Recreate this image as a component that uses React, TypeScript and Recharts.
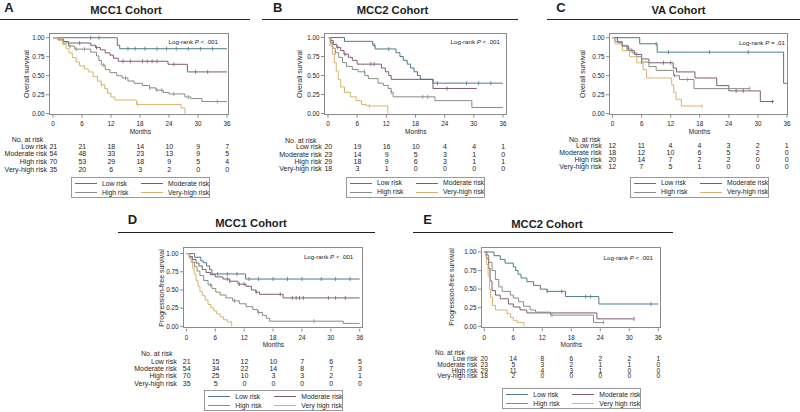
import { ComposedChart, Line, Scatter, XAxis, YAxis } from 'recharts';

type Pt = [number, number];

const FONT = '"Liberation Sans", Arial, Helvetica, sans-serif';
const COLORS = ['#4b7a8a', '#7d5c74', '#858f82', '#d9b36b'];
const ROW_LABELS = ['Low risk', 'Moderate risk', 'High risk', 'Very-high risk'];
const LEGEND_ABC = ['Low risk', 'Moderate risk', 'High risk', 'Very-high risk'];
const LEGEND_DE = ['Low risk', 'Moderate risk', 'High risk', 'Very high risk'];
const MONTHS = [0, 6, 12, 18, 24, 30, 36];
const SURV_TICKS = [0, 0.25, 0.5, 0.75, 1];

// A - MCC1 overall survival
const aLow: Pt[] = [[0, 1], [13.3, 0.9], [13.8, 0.855], [36, 0.855]];
const aMod: Pt[] = [[0, 1], [1.2, 0.98], [2.2, 0.95], [3.2, 0.93], [7.8, 0.9], [8.8, 0.87], [9.8, 0.84], [10.8, 0.8], [11.8, 0.77], [12.5, 0.73], [13.5, 0.69], [23.8, 0.65], [27.8, 0.55], [36, 0.55]];
const aHigh: Pt[] = [[0, 1], [1, 0.97], [2, 0.93], [3.2, 0.89], [4.5, 0.85], [7.8, 0.81], [9, 0.76], [9.5, 0.7], [10, 0.64], [10.8, 0.58], [11.8, 0.54], [13.2, 0.5], [14.3, 0.47], [15.5, 0.43], [16.8, 0.4], [18.5, 0.37], [20, 0.34], [21.3, 0.31], [22.8, 0.28], [24, 0.26], [27.3, 0.22], [28.5, 0.2], [30.8, 0.16], [36, 0.16]];
const aVery: Pt[] = [[0, 1], [1.2, 0.97], [2, 0.91], [2.7, 0.86], [3.3, 0.8], [4, 0.74], [4.8, 0.68], [5.5, 0.63], [6.5, 0.59], [7.3, 0.55], [8.3, 0.49], [9.2, 0.43], [10, 0.38], [10.7, 0.33], [11.3, 0.27], [12, 0.22], [12.8, 0.18], [17.3, 0.12], [26.5, 0.075], [27.3, 0]];
const aCens = [[7.8, 9.5, 15.5, 17, 19, 21.5, 23.5, 25.5, 28, 30.5, 33], [5.5, 9, 14.5, 16, 18.5, 19.5, 20.5, 21.5, 25, 29.5, 32], [3.5, 4.8, 6.5, 10.5, 15, 20, 21.5, 22.5, 25, 28, 34], [10, 17.5]];
const aRisk = [[21, 21, 18, 14, 10, 9, 7], [54, 48, 33, 23, 13, 9, 5], [70, 53, 29, 18, 9, 5, 4], [35, 20, 6, 3, 2, 0, 0]];

// B - MCC2 overall survival
const bLow: Pt[] = [[0, 1], [3.4, 0.95], [9.2, 0.9], [9.7, 0.85], [14, 0.8], [14.8, 0.75], [15.5, 0.7], [16.3, 0.65], [17, 0.6], [17.7, 0.55], [18.4, 0.5], [19, 0.45], [21.6, 0.4], [36, 0.4]];
const bMod: Pt[] = [[0, 1], [0.6, 0.96], [1.1, 0.91], [1.8, 0.87], [2.6, 0.83], [3.3, 0.78], [4.2, 0.74], [5, 0.7], [6, 0.65], [11, 0.6], [11.8, 0.55], [12.5, 0.5], [13, 0.45], [21.6, 0.33], [30.6, 0.33]];
const bHigh: Pt[] = [[0, 1], [0.5, 0.93], [1, 0.86], [1.5, 0.8], [2.2, 0.74], [3, 0.67], [3.8, 0.62], [5, 0.58], [6.2, 0.55], [7.6, 0.5], [8.3, 0.46], [10.3, 0.4], [11.4, 0.37], [12.4, 0.33], [13, 0.28], [13.4, 0.22], [22, 0.17], [29.6, 0.08], [36, 0.08]];
const bVery: Pt[] = [[0, 1], [0.4, 0.89], [0.9, 0.78], [1.3, 0.67], [1.7, 0.56], [2.1, 0.45], [2.6, 0.35], [3.4, 0.28], [4.6, 0.22], [5.8, 0.17], [6.9, 0.12], [7.9, 0.1], [12.3, 0]];
const bCens = [[9.5, 12.5, 22.5, 28.5, 31, 33.5], [2, 3.5, 8.8, 9.5, 24.5], [0.8, 1.5, 7.5, 13, 19.5, 20.5], [8.5]];
const bRisk = [[20, 19, 16, 10, 4, 4, 1], [23, 14, 9, 5, 3, 1, 0], [29, 18, 9, 6, 3, 1, 1], [18, 3, 1, 0, 0, 0, 0]];

// C - VA overall survival
const cLow: Pt[] = [[0, 1], [5.6, 0.92], [9.2, 0.81], [35.3, 0.4], [36, 0.4]];
const cMod: Pt[] = [[0, 1], [1, 0.94], [2, 0.89], [3.3, 0.83], [4.5, 0.78], [6, 0.72], [7.5, 0.67], [12.5, 0.6], [13.2, 0.55], [17, 0.47], [21.5, 0.37], [24, 0.3], [30.5, 0.16], [33.3, 0.16]];
const cHigh: Pt[] = [[0, 1], [0.5, 0.95], [1.9, 0.9], [3, 0.85], [4, 0.8], [5, 0.75], [6, 0.68], [7.5, 0.62], [9, 0.57], [12.6, 0.5], [13.8, 0.45], [16.8, 0.33], [28.3, 0.33]];
const cVery: Pt[] = [[0, 1], [0.5, 0.92], [2, 0.83], [3.5, 0.75], [5, 0.67], [6.3, 0.58], [7, 0.47], [12.2, 0.38], [12.6, 0.28], [13.1, 0.19], [14.2, 0.1], [18.5, 0.1]];
const cCens = [[9, 11.5, 20, 28], [10.5, 12, 25.5, 27, 33], [2, 3, 6, 12.8, 15.5, 28.3], [18.5]];
const cRisk = [[12, 11, 4, 4, 3, 2, 1], [18, 12, 10, 6, 5, 2, 0], [20, 14, 7, 2, 2, 0, 0], [12, 7, 5, 1, 0, 0, 0]];

// D - MCC1 progression-free survival
const dLow: Pt[] = [[0, 1], [1.7, 0.95], [3, 0.9], [3.5, 0.875], [4.2, 0.83], [4.8, 0.78], [5.3, 0.72], [12.3, 0.65], [36, 0.65]];
const dMod: Pt[] = [[0, 1], [0.7, 0.96], [1.3, 0.92], [2, 0.87], [2.6, 0.83], [3.3, 0.78], [4.1, 0.74], [5, 0.71], [6, 0.68], [7.6, 0.65], [9, 0.62], [10.7, 0.58], [12.4, 0.55], [13.5, 0.5], [14.4, 0.47], [15.2, 0.44], [20.1, 0.39], [36, 0.39]];
const dHigh: Pt[] = [[0, 1], [0.6, 0.94], [1.2, 0.88], [1.7, 0.82], [2.2, 0.76], [2.8, 0.7], [3.6, 0.63], [4.5, 0.57], [5.3, 0.52], [6.1, 0.47], [7, 0.43], [8.2, 0.39], [9.6, 0.35], [11, 0.31], [12.4, 0.27], [13.8, 0.23], [14.8, 0.19], [15.8, 0.15], [16.6, 0.11], [17.3, 0.07], [32.6, 0.04], [36, 0.04]];
const dVery: Pt[] = [[0, 1], [0.6, 0.94], [1, 0.88], [1.3, 0.8], [1.6, 0.72], [2, 0.63], [2.4, 0.55], [2.8, 0.48], [3.3, 0.42], [3.9, 0.36], [4.5, 0.3], [5.1, 0.25], [5.7, 0.21], [6.3, 0.17], [7, 0.13], [7.7, 0.09], [8.5, 0.06], [9.4, 0]];
const dCens = [[6.5, 8.5, 10.5, 13, 15, 18, 21, 24, 28, 31, 34], [8.5, 9, 11, 12, 14.5, 19.5, 22, 22.8, 23.5, 24.3, 29.5, 31, 33], [5, 10, 15, 26.5], []];
const dRisk = [[21, 15, 12, 10, 7, 6, 5], [54, 34, 22, 14, 8, 7, 3], [70, 25, 10, 3, 3, 2, 1], [35, 5, 0, 0, 0, 0, 0]];

// E - MCC2 progression-free survival
const eLow: Pt[] = [[0, 1], [2, 0.95], [3.3, 0.9], [4.3, 0.85], [6, 0.8], [6.5, 0.75], [7, 0.7], [7.6, 0.65], [8.8, 0.6], [10.2, 0.55], [11.6, 0.5], [13, 0.47], [16.8, 0.4], [23.7, 0.3], [36, 0.3]];
const eMod: Pt[] = [[0, 1], [0.5, 0.91], [0.9, 0.78], [1.2, 0.61], [1.6, 0.48], [2.3, 0.42], [3.3, 0.37], [5, 0.3], [6, 0.26], [7.4, 0.22], [8.8, 0.18], [23.3, 0.1], [31, 0.1]];
const eHigh: Pt[] = [[0, 1], [0.5, 0.96], [0.9, 0.86], [1.6, 0.75], [2.3, 0.63], [3, 0.53], [3.7, 0.47], [5.4, 0.42], [6, 0.38], [7.1, 0.33], [8.1, 0.27], [9.5, 0.22], [10.6, 0.19], [13.7, 0.15], [22.6, 0.05], [24.7, 0.05]];
const eVery: Pt[] = [[0, 1], [0.3, 0.94], [0.5, 0.83], [0.8, 0.67], [1.1, 0.5], [1.3, 0.39], [1.7, 0.28], [2.3, 0.22], [4.7, 0.17], [5.4, 0.12], [6, 0.08], [6.8, 0.05], [8.2, 0]];
const eCens = [[13, 16, 21, 22, 34.5], [31], [14, 24.7], []];
const eRisk = [[20, 14, 8, 6, 2, 2, 1], [23, 5, 3, 2, 1, 1, 0], [29, 11, 4, 3, 1, 0, 0], [18, 2, 0, 0, 0, 0, 0]];

interface Frame { x: number; y: number; w: number; h: number }

interface PanelProps {
  letter: string;
  letterPos: Pt;
  title: string;
  titlePos: Pt;
  rule: [number, number, number];
  frame: Frame;
  xDom: Pt;
  yDom: Pt;
  yTitle: string;
  yTitleX: number;
  logrank: string;
  logrankPos: Pt;
  curves: Pt[][];
  censors: number[][];
  risk: number[][];
  labelRight: number;
  headerPos: Pt;
  rowsY: number[];
  tableSize?: number;
  legendPos: Pt;
  legendLabels: string[];
}

function survAt(curve: Pt[], t: number) {
  let s = curve[0][1];
  for (const [tt, ss] of curve) {
    if (tt <= t) s = ss;
    else break;
  }
  return s;
}

function Txt({ x, y, size = 7, anchor = 'start', bold = false, children }: {
  x: number; y: number; size?: number; anchor?: 'start' | 'middle' | 'end'; bold?: boolean; children: React.ReactNode;
}) {
  const tx = anchor === 'middle' ? '-50%' : anchor === 'end' ? '-100%' : '0';
  return (
    <div
      style={{
        position: 'absolute',
        left: x,
        top: y,
        transform: `translate(${tx}, -50%)`,
        fontSize: size,
        lineHeight: 0.82,
        whiteSpace: 'nowrap',
        fontWeight: bold ? 700 : 400,
        color: '#1e1e1e',
      }}
    >
      {children}
    </div>
  );
}

function Legend({ x, y, labels }: { x: number; y: number; labels: string[] }) {
  const slots = [[3, 6], [69, 6], [3, 15], [69, 15]];
  return (
    <div
      style={{
        position: 'absolute',
        left: x,
        top: y,
        width: 139,
        height: 21,
        border: '1px solid #9a9a9a',
        boxSizing: 'border-box',
        background: '#fff',
      }}
    >
      {labels.map((lab, i) => (
        <div key={lab}>
          <div
            style={{
              position: 'absolute',
              left: slots[i][0],
              top: slots[i][1] - 1,
              width: 22,
              height: 1,
              background: COLORS[i],
            }}
          />
          <Txt x={slots[i][0] + 27} y={slots[i][1] - 0.5} size={6.8}>{lab}</Txt>
        </div>
      ))}
    </div>
  );
}

const censorShape = (color: string) => (props: any) => (
  <line x1={props.cx} x2={props.cx} y1={props.cy - 2} y2={props.cy + 2} stroke={color} strokeWidth={0.8} />
);

function Panel(p: PanelProps) {
  const f = p.frame;
  const xAt = (t: number) => f.x + ((t - p.xDom[0]) / (p.xDom[1] - p.xDom[0])) * f.w;
  const AXW = 50;
  const AXH = 30;
  const ts = p.tableSize ?? 7;
  return (
    <>
      <Txt x={p.letterPos[0]} y={p.letterPos[1]} size={13} anchor="middle" bold>{p.letter}</Txt>
      <Txt x={p.titlePos[0]} y={p.titlePos[1]} size={11.2} anchor="middle" bold>{p.title}</Txt>
      <div style={{ position: 'absolute', left: p.rule[0], top: p.rule[2] - 0.75, width: p.rule[1] - p.rule[0], height: 1.5, background: '#222' }} />

      <div style={{ position: 'absolute', left: f.x - AXW, top: f.y - 5 }}>
        <ComposedChart width={f.w + AXW + 5} height={f.h + 5 + AXH} margin={{ top: 5, right: 5, left: 0, bottom: 0 }}>
          <XAxis
            type="number"
            dataKey="t"
            domain={p.xDom}
            ticks={MONTHS}
            interval={0}
            allowDataOverflow
            height={AXH}
            tickSize={3}
            tickMargin={4.3}
            axisLine={false}
            tickLine={{ stroke: '#8a8a8a' }}
            tick={{ fontSize: 6.3, fill: '#222', fontFamily: FONT }}
          />
          <YAxis
            type="number"
            dataKey="s"
            domain={p.yDom}
            ticks={SURV_TICKS}
            interval={0}
            allowDataOverflow
            width={AXW}
            tickSize={3}
            tickMargin={1.5}
            axisLine={false}
            tickLine={{ stroke: '#8a8a8a' }}
            tickFormatter={(v: number) => v.toFixed(2)}
            tick={{ fontSize: 6.3, fill: '#222', fontFamily: FONT }}
          />
          {p.curves.map((c, i) => (
            <Line
              key={`l${i}`}
              data={c.map(([t, s]) => ({ t, s }))}
              dataKey="s"
              type="stepAfter"
              stroke={COLORS[i]}
              strokeWidth={1}
              dot={false}
              activeDot={false}
              isAnimationActive={false}
            />
          ))}
          {p.censors.map((c, i) => (
            <Scatter
              key={`c${i}`}
              data={c.map((t) => ({ t, s: survAt(p.curves[i], t) }))}
              dataKey="s"
              shape={censorShape(COLORS[i])}
              isAnimationActive={false}
            />
          ))}
        </ComposedChart>
      </div>
      <div style={{ position: 'absolute', left: f.x, top: f.y, width: f.w, height: f.h, border: '1px solid #8a8a8a', boxSizing: 'border-box' }} />

      <div
        style={{
          position: 'absolute',
          left: p.yTitleX,
          top: f.y + f.h / 2,
          transform: 'translate(-50%, -50%) rotate(-90deg)',
          fontSize: 7,
          lineHeight: 0.82,
          whiteSpace: 'nowrap',
          color: '#1e1e1e',
        }}
      >
        {p.yTitle}
      </div>
      <Txt x={(xAt(0) + xAt(36)) / 2} y={f.y + f.h + 16.5} size={6.5} anchor="middle">Months</Txt>
      <Txt x={p.logrankPos[0]} y={p.logrankPos[1]} size={6.2} anchor="end">
        Log-rank <i>P</i> {p.logrank}
      </Txt>

      <Txt x={p.headerPos[0]} y={p.headerPos[1]} size={ts}>No. at risk</Txt>
      {p.risk.map((row, r) => (
        <div key={`r${r}`}>
          <Txt x={p.labelRight} y={p.rowsY[r]} size={ts} anchor="end">{ROW_LABELS[r]}</Txt>
          {row.map((n, k) => (
            <Txt key={k} x={xAt(MONTHS[k])} y={p.rowsY[r]} size={ts} anchor="middle">{n}</Txt>
          ))}
        </div>
      ))}
      <Legend x={p.legendPos[0]} y={p.legendPos[1]} labels={p.legendLabels} />
    </>
  );
}

export default function App() {
  return (
    <div style={{ position: 'absolute', left: 0, top: 0, width: 800, height: 412, background: '#fff', fontFamily: FONT, overflow: 'hidden' }}>
      <Panel
        letter="A" letterPos={[9, 7.5]} title="MCC1 Cohort" titlePos={[126, 11.2]} rule={[0, 250, 19.5]}
        frame={{ x: 49.3, y: 33.3, w: 179.4, h: 81.7 }} xDom={[-0.83, 36.29]} yDom={[-0.013, 1.062]}
        yTitle="Overall survival" yTitleX={26.7} logrank="< .001" logrankPos={[218, 41.7]}
        curves={[aLow, aMod, aHigh, aVery]} censors={aCens} risk={aRisk}
        labelRight={47} headerPos={[11.7, 139.5]} rowsY={[146.5, 154.3, 162, 169.7]}
        legendPos={[71, 177]} legendLabels={LEGEND_ABC}
      />
      <Panel
        letter="B" letterPos={[277.7, 7.5]} title="MCC2 Cohort" titlePos={[392.5, 11.2]} rule={[262, 518, 19.5]}
        frame={{ x: 324.3, y: 33.3, w: 182.4, h: 81.7 }} xDom={[-0.82, 36.7]} yDom={[-0.015, 1.06]}
        yTitle="Overall survival" yTitleX={300} logrank="< .001" logrankPos={[500, 42]}
        curves={[bLow, bMod, bHigh, bVery]} censors={bCens} risk={bRisk}
        labelRight={321.7} headerPos={[285, 140.5]} rowsY={[147, 154.5, 161.7, 168.7]}
        legendPos={[346, 176.7]} legendLabels={LEGEND_ABC}
      />
      <Panel
        letter="C" letterPos={[561, 7.5]} title="VA Cohort" titlePos={[678.5, 11.2]} rule={[547, 800, 19.5]}
        frame={{ x: 608.7, y: 33.3, w: 179.6, h: 81.7 }} xDom={[-0.74, 36.33]} yDom={[-0.013, 1.062]}
        yTitle="Overall survival" yTitleX={583} logrank="= .01" logrankPos={[785, 42.7]}
        curves={[cLow, cMod, cHigh, cVery]} censors={cCens} risk={cRisk}
        labelRight={601.7} headerPos={[569, 140]} rowsY={[146, 153.3, 160, 166.7]}
        legendPos={[630, 176.7]} legendLabels={LEGEND_ABC}
      />
      <Panel
        letter="D" letterPos={[132.5, 219.5]} title="MCC1 Cohort" titlePos={[251, 224]} rule={[118, 375, 232.3]}
        frame={{ x: 183.3, y: 246.7, w: 180, h: 81.6 }} xDom={[-0.71, 36.69]} yDom={[-0.032, 1.091]}
        yTitle="Progression-free survival" yTitleX={161.7} logrank="< .001" logrankPos={[353.3, 256.7]}
        curves={[dLow, dMod, dHigh, dVery]} censors={dCens} risk={dRisk}
        labelRight={176.7} headerPos={[141, 354.3]} rowsY={[362, 369, 376.3, 383.5]}
        legendPos={[204.3, 390]} legendLabels={LEGEND_DE}
      />
      <Panel
        letter="E" letterPos={[427.5, 219.5]} title="MCC2 Cohort" titlePos={[547, 225]} rule={[413, 673, 232.3]}
        frame={{ x: 481, y: 246.7, w: 179.7, h: 81.3 }} xDom={[-0.68, 36.5]} yDom={[-0.027, 1.067]}
        yTitle="Progression-free survival" yTitleX={451.7} logrank="< .001" logrankPos={[653, 258]}
        curves={[eLow, eMod, eHigh, eVery]} censors={eCens} risk={eRisk}
        labelRight={477.3} headerPos={[435, 352.8]} rowsY={[359, 364.8, 370.6, 376.4]} tableSize={6.6}
        legendPos={[502.3, 388.3]} legendLabels={LEGEND_DE}
      />
    </div>
  );
}
